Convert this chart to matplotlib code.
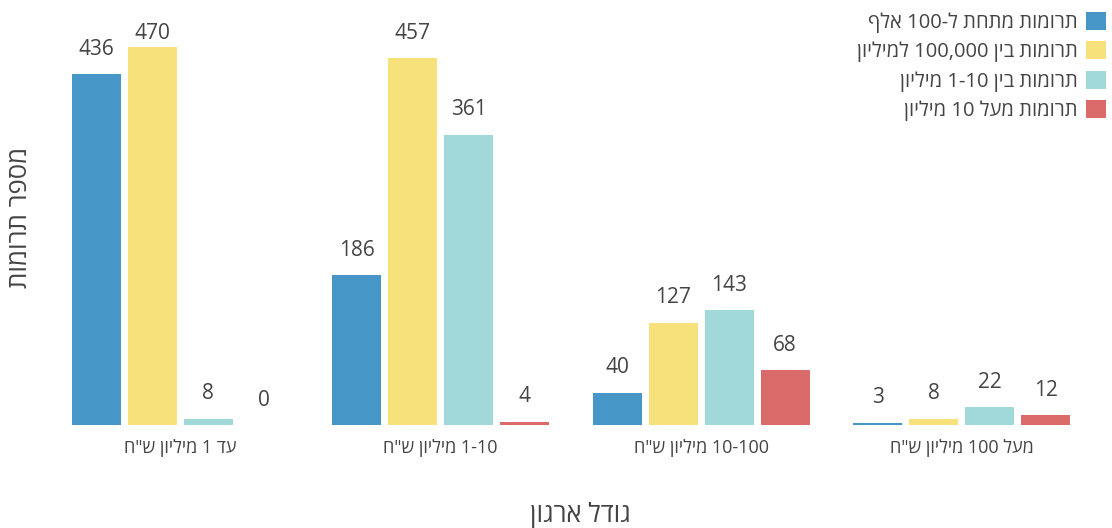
import re
import matplotlib
matplotlib.use("Agg")
import matplotlib.pyplot as plt
import numpy as np

plt.rcParams['font.family'] = ['Open Sans', 'DejaVu Sans']

categories = ['עד 1 מיליון ש"ח', '1-10 מיליון ש"ח', '10-100 מיליון ש"ח', 'מעל 100 מיליון ש"ח']
series_names = ["תרומות מתחת ל-100 אלף", "תרומות בין 100,000 למיליון",
                "תרומות בין 1-10 מיליון", "תרומות מעל 10 מיליון"]
under_100k = [436, 186, 40, 3]
between_100k_1m = [470, 457, 127, 8]
between_1m_10m = [8, 361, 143, 22]
over_10m = [0, 4, 68, 12]
colors = ["#4696C8", "#F7E17B", "#A1D9DB", "#DB6B6A"]
x_title = "גודל ארגון"
y_title = "מספר תרומות"


def vis(s):
    """Convert logical-order RTL text to visual order for LTR rendering."""
    r = s[::-1]
    return re.sub(r'\d(?:[\d.,\-]*\d)?', lambda m: m.group(0)[::-1], r)


values = [under_100k, between_100k_1m, between_1m_10m, over_10m]
text_col = "#444444"

fig = plt.figure(figsize=(11.12, 5.28), dpi=100)
W, H = 1112, 528
left, right, top, bottom = 50, 1092, 10, 425
ax = fig.add_axes([left / W, 1 - bottom / H, (right - left) / W, (bottom - top) / H])

x = np.arange(len(categories))
step = 56 / 260.5
width = 49 / 260.5
ymax = (bottom - top) / 0.804
for j, (vals, name, c) in enumerate(zip(values, series_names, colors)):
    xs = x + (j - 1.5) * step
    ax.bar(xs, vals, width=width, color=c, label=vis(name))
    for xi, v in zip(xs, vals):
        ly = min(v + 31, 487)
        ax.text(xi, ly, str(v), ha='center', va='center', fontsize=15, color=text_col)

ax.set_xlim(-0.5, len(categories) - 0.5)
ax.set_ylim(0, ymax)
ax.set_xticks(x)
ax.set_xticklabels([vis(c) for c in categories], fontsize=13, color=text_col)
ax.tick_params(axis='x', length=0, pad=10)
ax.set_yticks([])
for s in ax.spines.values():
    s.set_visible(False)

fig.text(580 / W, 1 - 515 / H, vis(x_title), ha='center', va='center', fontsize=18.5, color=text_col)
fig.text(21 / W, 1 - 217 / H, vis(y_title), ha='center', va='center', rotation=90, fontsize=18.5, color=text_col)

leg = fig.legend(loc='upper right', bbox_to_anchor=(1114 / W, 1 - 4 / H), markerfirst=False,
                 frameon=False, fontsize=14.5, handlelength=1.0, handleheight=1.0,
                 handletextpad=0.4, labelspacing=0.42, borderaxespad=0)
for t in leg.get_texts():
    t.set_color(text_col)

fig.savefig("out.png", dpi=100)
